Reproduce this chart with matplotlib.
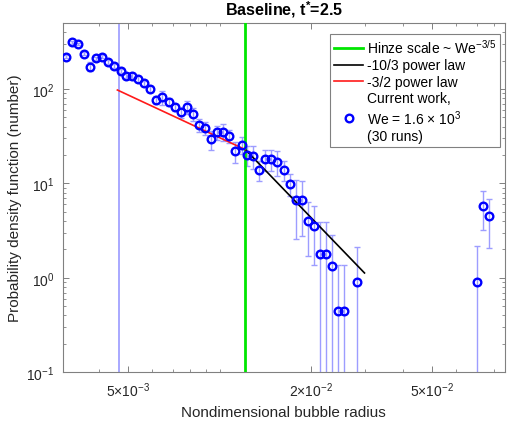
import numpy as np
import matplotlib.pyplot as plt
from matplotlib.ticker import FixedLocator, LogLocator, NullFormatter

plt.rcParams['font.family'] = ['Liberation Sans', 'DejaVu Sans']
plt.rcParams['mathtext.fontset'] = 'custom'
plt.rcParams['mathtext.rm'] = 'Liberation Sans'
plt.rcParams['mathtext.it'] = 'Liberation Sans:italic'
plt.rcParams['mathtext.bf'] = 'Liberation Sans:bold'

# bubble size distribution, current work (30 runs)
radius = [3.12e-3, 3.26e-3, 3.41e-3, 3.58e-3, 3.74e-3, 3.92e-3, 4.10e-3, 4.28e-3,
          4.49e-3, 4.71e-3, 4.92e-3, 5.15e-3, 5.39e-3, 5.64e-3, 5.91e-3, 6.18e-3,
          6.47e-3, 6.79e-3, 7.11e-3, 7.44e-3, 7.78e-3, 8.14e-3, 8.53e-3, 8.94e-3,
          9.35e-3, 9.79e-3, 1.024e-2, 1.072e-2, 1.122e-2, 1.178e-2, 1.232e-2, 1.289e-2,
          1.349e-2, 1.412e-2, 1.477e-2, 1.546e-2, 1.622e-2, 1.698e-2, 1.777e-2, 1.860e-2,
          1.946e-2, 2.037e-2, 2.132e-2, 2.231e-2, 2.334e-2, 2.449e-2, 2.564e-2, 2.820e-2,
          7.03e-2, 7.32e-2, 7.70e-2]
pdf = [220, 313, 300, 237, 173, 211, 220, 195,
       175, 154, 138, 138, 128, 115, 100, 77,
       82, 73, 64, 56.6, 64, 54.3, 41.6, 38.4,
       29.3, 34.8, 35.3, 32.0, 21.9, 25.7, 20.2, 19.6,
       14.0, 18.1, 18.1, 17.0, 14.0, 9.9, 6.7, 6.7,
       4.0, 3.56, 1.80, 1.80, 1.34, 0.448, 0.448, 0.895,
       0.895, 5.8, 4.48]
pdf_err = [8, 10, 10, 9, 19, 9, 9, 9,
           8, 8, 8, 8, 8, 8, 8, 8,
           14, 7, 6, 7, 10, 8, 6.5, 6,
           6.8, 6, 7, 5, 5.3, 5, 5, 5.5,
           3.4, 4.6, 4.6, 5, 3.4, 2.6, 4.1, 3.9,
           2.3, 2.2, 2.1, 2.1, 1.5, 0.92, 0.92, 1.24,
           1.3, 2.55, 2.4]

r_resolution = 4.67e-3
r_hinze = 0.0121
red_x = [4.6e-3, 0.0121]
red_amp = 97.6
black_x = [0.0121, 0.0299]
black_amp = 23.0

fig = plt.figure(figsize=(5.09, 4.27), dpi=100)
ax = fig.add_axes([0.1232, 0.1257, 0.8690, 0.8181])
ax.set_xscale('log')
ax.set_yscale('log')

r = np.array(radius)
p = np.array(pdf)
e = np.array(pdf_err)
lower = np.minimum(e, p - 1e-3)

ax.axvline(r_resolution, color='#9a9aff', lw=1.2, zorder=1)
ax.errorbar(r, p, yerr=[lower, e], fmt='none', ecolor='#9d9dff', elinewidth=1,
            capsize=2.5, capthick=1, zorder=2)

hz, = ax.plot([r_hinze, r_hinze], [1e-3, 1e4], color='#00e600', lw=2,
              label='Hinze scale ~ We$^{-3/5}$', zorder=3)
bx = np.array(black_x)
bl, = ax.plot(bx, black_amp * (bx / bx[0]) ** (-10 / 3), color='black', lw=1.2,
              label='-10/3 power law', zorder=4)
rx = np.array(red_x)
rl, = ax.plot(rx, red_amp * (rx / rx[0]) ** (-1.5), color='#ff1a1a', lw=1.2,
              label='-3/2 power law', zorder=4)
pts, = ax.plot(r, p, 'o', ms=5.5, mfc='none', mec='#0000ff', mew=1.7,
               label='Current work,\nWe = 1.6 $\\times$ 10$^3$\n(30 runs)', zorder=5)

ax.set_xlim(3.04e-3, 0.0867)
ax.set_ylim(0.1, 500)

ax.xaxis.set_major_locator(FixedLocator([5e-3, 2e-2, 5e-2]))
ax.set_xticklabels(['5$\\times$10$^{-3}$', '2$\\times$10$^{-2}$', '5$\\times$10$^{-2}$'])
ax.xaxis.set_minor_locator(LogLocator(base=10, subs=np.arange(1, 10), numticks=20))
ax.xaxis.set_minor_formatter(NullFormatter())
ax.yaxis.set_minor_locator(LogLocator(base=10, subs=np.arange(2, 10), numticks=20))
ax.yaxis.set_minor_formatter(NullFormatter())

grey = '#808080'
for s in ax.spines.values():
    s.set_color(grey)
    s.set_linewidth(0.8)
ax.tick_params(which='both', direction='in', top=True, right=True, color=grey,
               labelsize=10, labelcolor='#262626')
ax.tick_params(which='major', length=4.5, width=0.7, pad=6)
ax.tick_params(which='minor', length=2.5, width=0.6)

ax.set_xlabel('Nondimensional bubble radius', fontsize=11, color='#262626', labelpad=4)
ax.set_ylabel('Probability density function (number)', fontsize=11, color='#262626', labelpad=3)
ax.set_title('Baseline, t$^{\\mathbf{*}}$=2.5', fontsize=11.5, fontweight='bold', pad=6)

leg = ax.legend(handles=[hz, bl, rl, pts], loc='upper right', fontsize=10,
                bbox_to_anchor=(0.989, 0.969), fancybox=False, framealpha=1,
                edgecolor=grey, handlelength=2.1, handletextpad=0.25,
                borderpad=0.3, labelspacing=0.18, borderaxespad=0)
leg.get_frame().set_linewidth(0.8)

fig.savefig('out.png', dpi=100)
